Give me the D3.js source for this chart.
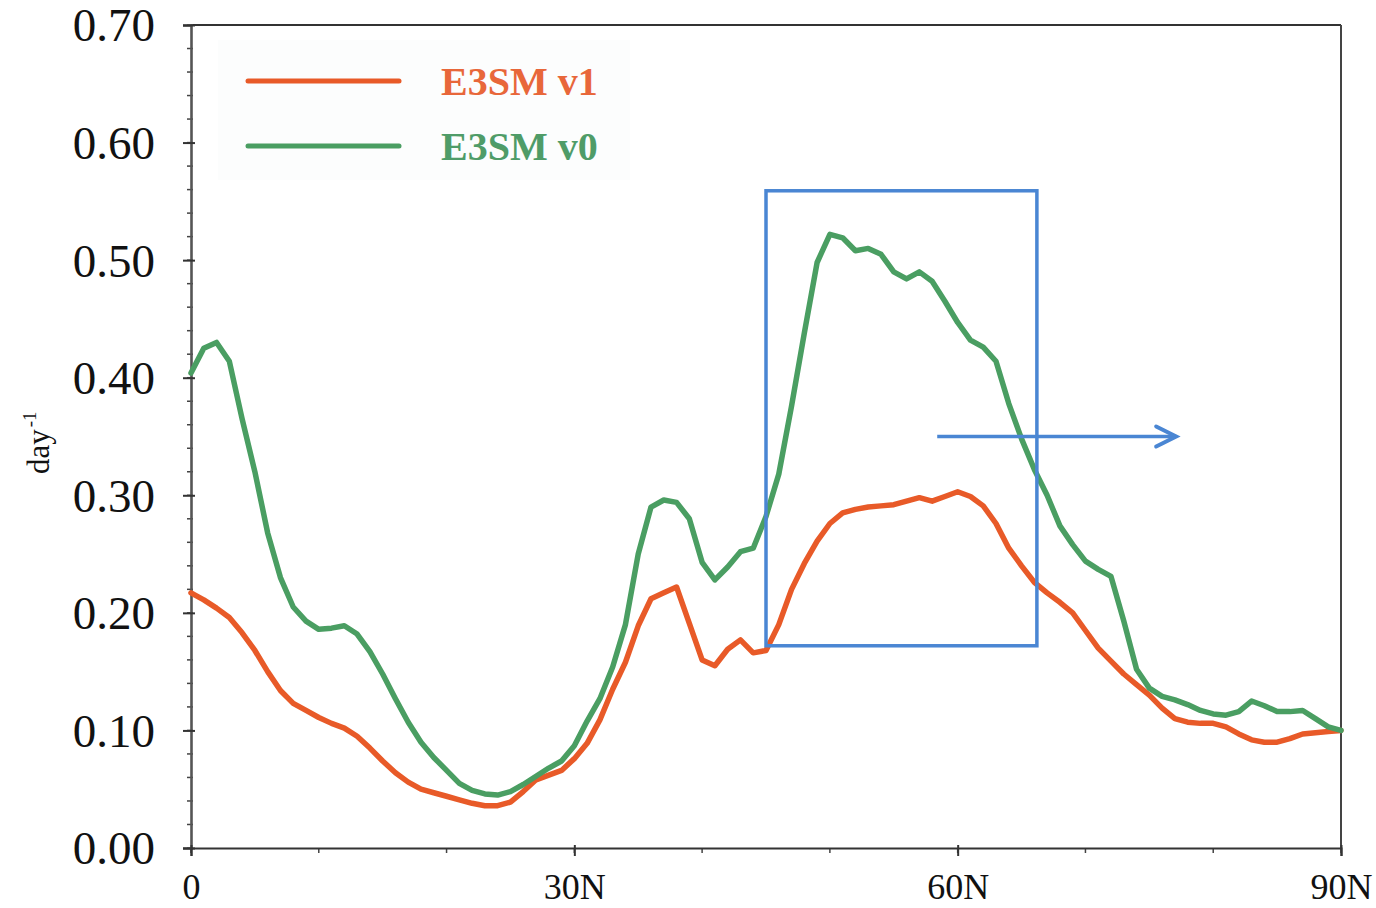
<!DOCTYPE html>
<html>
<head>
<meta charset="utf-8">
<script src="https://cdn.jsdelivr.net/npm/d3@7"></script>
<style>
  html, body { margin: 0; padding: 0; background: #fff; }
  svg { display: block; }
</style>
</head>
<body>
<svg id="chart" width="1376" height="908"></svg>
<script>
// Latitude grid (degrees north)
const latitudes = d3.range(0, 91, 1);

// E3SM v1 rate (day^-1)
const e3smV1 = [
  0.217, 0.211, 0.204, 0.196, 0.183, 0.168, 0.150, 0.134, 0.123, 0.117,
  0.111, 0.106, 0.102, 0.095, 0.085, 0.074, 0.064, 0.056, 0.050, 0.047,
  0.044, 0.041, 0.038, 0.036, 0.036, 0.039, 0.048, 0.058, 0.062, 0.066,
  0.076, 0.089, 0.109, 0.135, 0.158, 0.189, 0.212, 0.217, 0.222, 0.191,
  0.160, 0.155, 0.169, 0.177, 0.166, 0.168, 0.190, 0.220, 0.242, 0.261,
  0.276, 0.285, 0.288, 0.290, 0.291, 0.292, 0.295, 0.298, 0.295, 0.299,
  0.303, 0.299, 0.291, 0.276, 0.255, 0.240, 0.226, 0.217, 0.209, 0.200,
  0.185, 0.170, 0.159, 0.148, 0.139, 0.130, 0.119, 0.110, 0.107, 0.106,
  0.106, 0.103, 0.097, 0.092, 0.090, 0.090, 0.093, 0.097, 0.098, 0.099,
  0.100
];

// E3SM v0 rate (day^-1)
const e3smV0 = [
  0.404, 0.425, 0.430, 0.414, 0.365, 0.320, 0.268, 0.230, 0.205, 0.193,
  0.186, 0.187, 0.189, 0.182, 0.167, 0.148, 0.127, 0.107, 0.090, 0.077,
  0.066, 0.055, 0.049, 0.046, 0.045, 0.048, 0.054, 0.061, 0.068, 0.074,
  0.087, 0.108, 0.127, 0.154, 0.190, 0.250, 0.290, 0.296, 0.294, 0.280,
  0.243, 0.228, 0.239, 0.252, 0.255, 0.282, 0.318, 0.376, 0.438, 0.498,
  0.522, 0.519, 0.508, 0.510, 0.505, 0.490, 0.484, 0.490, 0.482, 0.465,
  0.447, 0.432, 0.426, 0.414, 0.378, 0.348, 0.322, 0.300, 0.274, 0.258,
  0.244, 0.237, 0.231, 0.193, 0.152, 0.136, 0.129, 0.126, 0.122, 0.117,
  0.114, 0.113, 0.116, 0.125, 0.121, 0.116, 0.116, 0.117, 0.110, 0.103,
  0.100
];

const seriesNames = ["E3SM v1", "E3SM v0"];
const seriesColors = ["#e85a28", "#4a9e62"];
const legendTextColors = ["#e8673a", "#4f9c68"];

const yTicks = [0, 0.1, 0.2, 0.3, 0.4, 0.5, 0.6, 0.7];
const yMinorTicks = d3.range(0, 0.7001, 0.02);
const xTicks = [0, 30, 60, 90];
const xTickLabels = ["0", "30N", "60N", "90N"];
const xMinorTicks = d3.range(0, 91, 10);

// Highlighted region and arrow, in data units
const boxLat = [45, 66.2];
const boxVal = [0.172, 0.559];
const arrowLat = [58.4, 77.1];
const arrowVal = 0.350;

const svg = d3.select("#chart");
const margin = { left: 191, right: 35, top: 25, bottom: 60 };
const W = 1376, H = 908;

const x = d3.scaleLinear().domain([0, 90]).range([margin.left, W - margin.right]);
const y = d3.scaleLinear().domain([0, 0.7]).range([H - margin.bottom, margin.top]);

const serif = "'Liberation Serif', 'Times New Roman', serif";

// Legend background
svg.append("rect")
  .attr("x", 218).attr("y", 40).attr("width", 412).attr("height", 140)
  .attr("fill", "#fcfdfd");

// Frame: top and right edges
svg.append("line")
  .attr("x1", x(0)).attr("x2", x(90)).attr("y1", y(0.7)).attr("y2", y(0.7))
  .attr("stroke", "#333").attr("stroke-width", 2);
svg.append("line")
  .attr("x1", x(90)).attr("x2", x(90)).attr("y1", y(0.7)).attr("y2", y(0))
  .attr("stroke", "#444").attr("stroke-width", 2);

// Y axis: minor ticks
svg.append("g").selectAll("line").data(yMinorTicks).join("line")
  .attr("x1", x(0) - 4).attr("x2", x(0) + 2)
  .attr("y1", d => y(d)).attr("y2", d => y(d))
  .attr("stroke", "#444").attr("stroke-width", 1.5);

// Y axis: major ticks and labels
const yAxis = svg.append("g")
  .attr("transform", `translate(${x(0)},0)`)
  .call(d3.axisLeft(y).tickValues(yTicks).tickFormat(d3.format(".2f")).tickSize(8).tickPadding(28));
yAxis.select(".domain").attr("stroke", "#555").attr("stroke-width", 2.6);
yAxis.selectAll(".tick line").attr("x2", 4).attr("x1", -8).attr("stroke", "#333").attr("stroke-width", 2);
yAxis.selectAll(".tick text")
  .attr("font-family", serif).attr("font-size", 47).attr("fill", "#111")
  .attr("dy", "0.34em");

// X axis: minor ticks
svg.append("g").selectAll("line").data(xMinorTicks).join("line")
  .attr("x1", d => x(d)).attr("x2", d => x(d))
  .attr("y1", y(0)).attr("y2", y(0) + 5)
  .attr("stroke", "#444").attr("stroke-width", 1.5);

// X axis: major ticks and labels
const xAxis = svg.append("g")
  .attr("transform", `translate(0,${y(0)})`)
  .call(d3.axisBottom(x).tickValues(xTicks).tickFormat((d, i) => xTickLabels[i]).tickSize(8).tickPadding(17));
xAxis.select(".domain").attr("stroke", "#333").attr("stroke-width", 2);
xAxis.selectAll(".tick line").attr("y1", -3).attr("y2", 8).attr("stroke", "#333").attr("stroke-width", 2);
xAxis.selectAll(".tick text")
  .attr("font-family", serif).attr("font-size", 36).attr("fill", "#111");

// Y axis title: day^-1
const yTitle = svg.append("text")
  .attr("transform", "translate(49,474) rotate(-90)")
  .attr("font-family", serif).attr("font-size", 31).attr("fill", "#111");
yTitle.append("tspan").text("day");
yTitle.append("tspan").attr("font-size", 19).attr("dy", -13).attr("dx", 2).text("-1");

// Series lines
const seriesData = [e3smV1, e3smV0];
const line = d3.line()
  .x((d, i) => x(latitudes[i]))
  .y(d => y(d));

svg.append("g").selectAll("path").data(seriesData).join("path")
  .attr("d", line)
  .attr("fill", "none")
  .attr("stroke", (d, i) => seriesColors[i])
  .attr("stroke-width", 5.5)
  .attr("stroke-linejoin", "round")
  .attr("stroke-linecap", "round");

// Legend
const legend = svg.append("g");
const legendY = [81, 146];
seriesNames.forEach((name, i) => {
  legend.append("line")
    .attr("x1", 248).attr("x2", 399)
    .attr("y1", legendY[i]).attr("y2", legendY[i])
    .attr("stroke", seriesColors[i]).attr("stroke-width", 5)
    .attr("stroke-linecap", "round");
  legend.append("text")
    .attr("x", 441).attr("y", legendY[i] + 14)
    .attr("font-family", serif).attr("font-weight", "bold").attr("font-size", 40)
    .attr("fill", legendTextColors[i])
    .text(name);
});

// Highlight box and arrow
const blue = "#4a86d3";
svg.append("rect")
  .attr("x", x(boxLat[0])).attr("y", y(boxVal[1]))
  .attr("width", x(boxLat[1]) - x(boxLat[0]))
  .attr("height", y(boxVal[0]) - y(boxVal[1]))
  .attr("fill", "none").attr("stroke", blue).attr("stroke-width", 3.5);

const ax0 = x(arrowLat[0]), ax1 = x(arrowLat[1]), ay = y(arrowVal);
svg.append("line")
  .attr("x1", ax0).attr("x2", ax1 - 2).attr("y1", ay).attr("y2", ay)
  .attr("stroke", blue).attr("stroke-width", 3.5);
svg.append("path")
  .attr("d", `M${ax1 - 20},${ay - 10} L${ax1},${ay} L${ax1 - 20},${ay + 10}`)
  .attr("fill", "none").attr("stroke", blue).attr("stroke-width", 4)
  .attr("stroke-linecap", "round").attr("stroke-linejoin", "miter");
</script>
</body>
</html>
